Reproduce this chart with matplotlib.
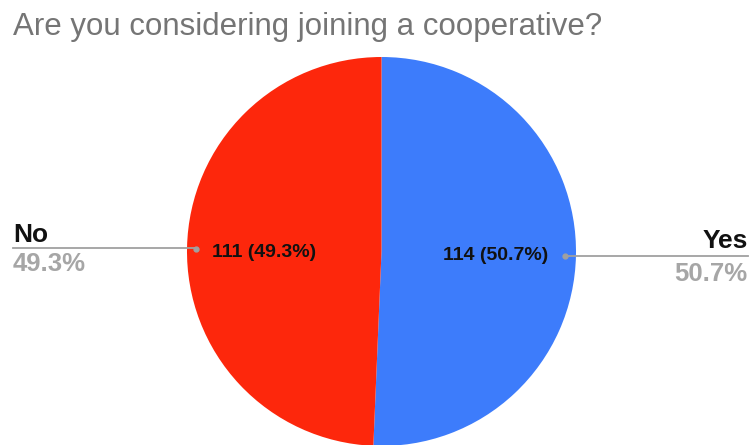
import matplotlib.pyplot as plt

labels = ['Yes', 'No']
counts = [114, 111]
colors = ['#3d7cfb', '#fd270c']
title = 'Are you considering joining a cooperative?'

plt.rcParams['font.family'] = ['Liberation Sans', 'DejaVu Sans']

fig = plt.figure(figsize=(7.5, 4.45), dpi=100)
ax = fig.add_axes([0, 0, 1, 1])

cx, cy, r = 381.5, 251.5, 194.5
total = sum(counts)
pct = [c / total * 100 for c in counts]

# y axis is flipped below, so counterclock here comes out clockwise on screen
ax.pie(counts, colors=colors, startangle=-90, counterclock=True,
       center=(cx, cy), radius=r, frame=True,
       wedgeprops=dict(linewidth=0))
# pixel coordinates, y down
ax.set_xlim(0, 750)
ax.set_ylim(445, 0)
ax.axis('off')

# labels inside the slices
ax.text(495.5, 260, f'{counts[0]} ({pct[0]:.1f}%)', fontsize=14, fontweight='bold',
        ha='center', va='baseline', color='#111111')
ax.text(264.5, 257, f'{counts[1]} ({pct[1]:.1f}%)', fontsize=14, fontweight='bold',
        ha='center', va='baseline', color='#111111')

# leader lines
ax.plot([13, 196], [248, 248], color='#a0a0a0', lw=1.3)
ax.plot([196], [248.5], 'o', color='#a0a0a0', ms=3.5)
ax.plot([565, 748], [255.5, 255.5], color='#a0a0a0', lw=1.3)
ax.plot([565], [255.5], 'o', color='#a0a0a0', ms=3.5)

# outside labels
ax.text(13, 242, labels[1], fontsize=19, fontweight='bold', ha='left', va='baseline', color='#111111')
ax.text(13, 271, f'{pct[1]:.1f}%', fontsize=18.5, fontweight='bold', ha='left', va='baseline', color='#a6a6a6')
ax.text(748, 248, labels[0], fontsize=19, fontweight='bold', ha='right', va='baseline', color='#111111')
ax.text(747, 281, f'{pct[0]:.1f}%', fontsize=18.5, fontweight='bold', ha='right', va='baseline', color='#a6a6a6')

ax.text(13, 35, title, fontsize=22.5, ha='left', va='baseline', color='#757575')

fig.savefig('out.png', dpi=100)
